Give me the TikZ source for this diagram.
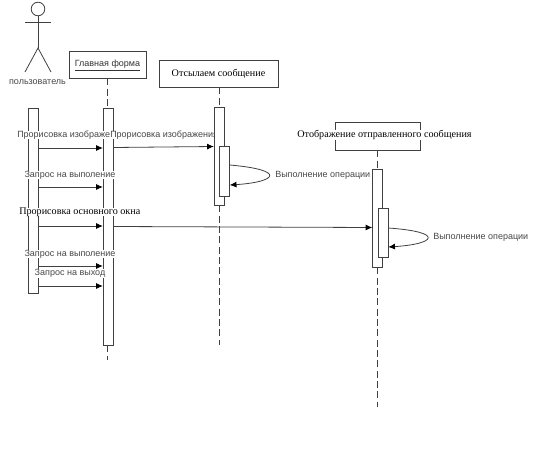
\documentclass[tikz,border=0pt]{standalone}
\usepackage{fontspec}
\setmainfont{Liberation Serif}
\setsansfont{Liberation Sans}
\usetikzlibrary{arrows.meta}
\newcommand{\sanstxt}{\sffamily\fontsize{6.75pt}{8pt}\selectfont}
\newcommand{\seriftxt}{\rmfamily\fontsize{7.6pt}{9pt}\selectfont}
\tikzset{
  edge/.style={draw=black!75,line width=0.6pt},
  lbl/.style={font=\sanstxt,text=black!72,inner sep=0pt},
  lblw/.style={lbl,fill=white},
  lblb/.style={font=\seriftxt,text=black,inner sep=0pt,fill=white},
  titlebox/.style={rectangle,edge,fill=white,inner sep=0pt},
  act/.style={rectangle,edge,fill=white,inner sep=0pt,minimum width=7.5pt},
  life/.style={edge,dash pattern=on 5.25pt off 2.5pt},
  msg/.style={edge,-{Latex[length=5pt,width=4.5pt,black]}},
  limb/.style={edge}
}
\begin{document}
\begin{tikzpicture}[x=0.75pt,y=-0.75pt]
\useasboundingbox (0,0) rectangle (540,464);
% actor
\node[draw=black!75,line width=0.6pt,circle,minimum size=10.2pt,inner sep=0pt] (head) at (38,9) {};
\coordinate (hip) at (38,48);
\coordinate (armL) at (25,22);
\coordinate (armR) at (51,22);
\coordinate (footL) at (25,72);
\coordinate (footR) at (51,72);
\draw[limb] (head.south) -- (hip);
\draw[limb] (armL) -- (armR);
\draw[limb] (footL) -- (hip) -- (footR);
\node[lbl] (actor) at (37.5,82) {пользователь};
% title boxes
\node[titlebox,minimum width=57.75pt,minimum height=20.25pt] (main) at (107.5,64.5) {};
\node[lbl,text=black!80,anchor=base] (mainT) at (107.5,66.7) {\underline{\smash{Главная форма}\rule[-0.9pt]{0pt}{1pt}}};
\node[titlebox,minimum width=89.25pt,minimum height=20.25pt] (send) at (218.5,73.5) {\seriftxt Отсылаем сообщение};
\node[titlebox,minimum width=63.75pt,minimum height=21pt] (show) at (377.5,136) {};
\node[lblb] (showT) at (384.5,135) {Отображение отправленного сообщения};
% activation bars of the first two lifelines
\node[act,minimum height=138.75pt] (au) at (33,200.5) {};
\node[act,minimum height=177.75pt] (am) at (108.2,226.5) {};
% labels lying over those bars
\node[lblw,anchor=west] (l1) at (17,135) {Прорисовка изображе};
\node[lblw,anchor=west] (l2) at (110,135) {Прорисовка изображения};
\node[lblw] (l3) at (70,175) {Запрос на выполение};
\node[lblb,anchor=west] (l4) at (19,212) {Прорисовка основного окна};
\node[lblw] (l5) at (70,254) {Запрос на выполение};
\node[lblw] (l6) at (70,273.5) {Запрос на выход};
\node[lbl,anchor=west] (l7) at (275,175) {Выполнение операции};
\node[lbl,anchor=west] (l8) at (433,237) {Выполнение операции};
% remaining bars
\node[act,minimum height=73.5pt] (as) at (219.2,156) {};
\node[act,minimum height=37.5pt] (as2) at (224.4,171) {};
\node[act,minimum height=73.5pt] (ad) at (377.7,218) {};
\node[act,minimum height=36.75pt] (ad2) at (382.9,233) {};
\coordinate (mEnd) at (107.5,360);
\coordinate (sEnd) at (219,345);
\coordinate (dEnd) at (377.5,407);
% lifelines
\draw[life] (main.south) -- (main.south |- am.north);
\draw[life] (am.south -| mEnd) -- (mEnd);
\draw[life] (send.south -| sEnd) -- (sEnd |- as.north);
\draw[life] (as.south -| sEnd) -- (sEnd);
\draw[life] (show.south) -- (show.south |- ad.north);
\draw[life] (ad.south -| dEnd) -- (dEnd);
% messages
\draw[msg] (au.east |- 0,148) -- (am.west |- 0,148);
\draw[msg] (am.east |- 0,147.5) -- (as.west |- 0,146.5);
\draw[msg] (au.east |- 0,187) -- (am.west |- 0,187);
\draw[msg] (au.east |- 0,226) -- (am.west |- 0,226);
\draw[msg] (am.east |- 0,226.5) -- (ad.west |- 0,227.5);
\draw[msg] (au.east |- 0,266) -- (am.west |- 0,266);
\draw[msg] (au.east |- 0,286) -- (am.west |- 0,286);
\draw[msg] (as2.east |- 0,165) .. controls (287,170) and (277,182) .. (as2.east |- 0,185);
\draw[msg] (ad2.east |- 0,228) .. controls (445,232) and (436,244) .. (ad2.east |- 0,247);
\end{tikzpicture}
\end{document}
